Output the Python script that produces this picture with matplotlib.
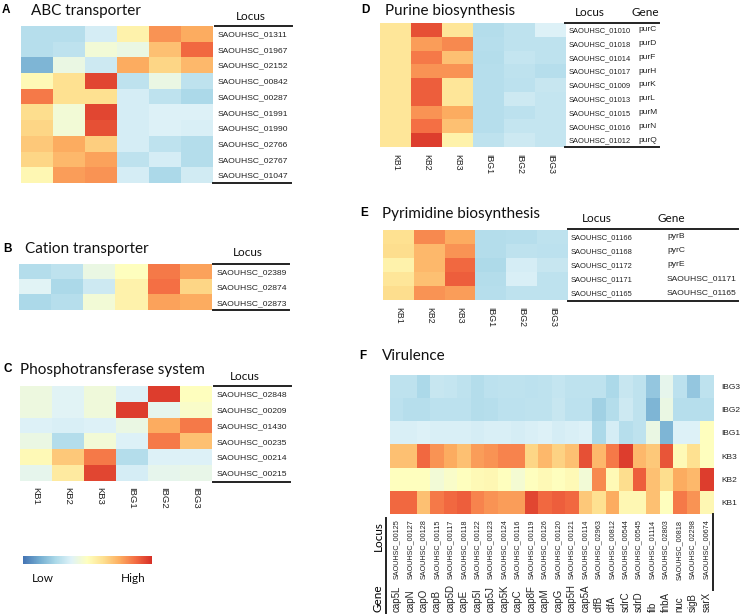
import numpy as np
import matplotlib
matplotlib.use("Agg")
import matplotlib.pyplot as plt
from matplotlib.colors import ListedColormap
from matplotlib.lines import Line2D
from matplotlib.transforms import blended_transform_factory

# ---------------- data ----------------
samples = ["KB1", "KB2", "KB3", "IBG1", "IBG2", "IBG3"]

A_loci = ["SAOUHSC_01311", "SAOUHSC_01967", "SAOUHSC_02152", "SAOUHSC_00842", "SAOUHSC_00287",
          "SAOUHSC_01991", "SAOUHSC_01990", "SAOUHSC_02766", "SAOUHSC_02767", "SAOUHSC_01047"]
A_vals = [[0.28, 0.28, 0.35, 0.55, 0.80, 0.75],
          [0.28, 0.30, 0.45, 0.42, 0.70, 0.88],
          [0.15, 0.42, 0.33, 0.75, 0.65, 0.72],
          [0.52, 0.62, 0.95, 0.30, 0.42, 0.30],
          [0.85, 0.62, 0.62, 0.35, 0.30, 0.25],
          [0.63, 0.45, 0.95, 0.35, 0.37, 0.37],
          [0.65, 0.45, 0.93, 0.35, 0.37, 0.36],
          [0.68, 0.75, 0.67, 0.35, 0.30, 0.27],
          [0.65, 0.72, 0.77, 0.30, 0.35, 0.27],
          [0.53, 0.78, 0.80, 0.35, 0.25, 0.34]]

B_loci = ["SAOUHSC_02389", "SAOUHSC_02874", "SAOUHSC_02873"]
B_vals = [[0.27, 0.30, 0.42, 0.50, 0.85, 0.77],
          [0.38, 0.25, 0.33, 0.55, 0.87, 0.65],
          [0.25, 0.28, 0.45, 0.55, 0.77, 0.75]]

C_loci = ["SAOUHSC_02848", "SAOUHSC_00209", "SAOUHSC_01430", "SAOUHSC_00235",
          "SAOUHSC_00214", "SAOUHSC_00215"]
C_vals = [[0.43, 0.38, 0.44, 0.37, 0.97, 0.50],
          [0.43, 0.38, 0.44, 0.97, 0.40, 0.48],
          [0.37, 0.36, 0.37, 0.42, 0.75, 0.85],
          [0.42, 0.27, 0.45, 0.37, 0.85, 0.70],
          [0.52, 0.68, 0.85, 0.27, 0.37, 0.37],
          [0.40, 0.58, 0.95, 0.35, 0.40, 0.41]]

D_loci = ["SAOUHSC_01010", "SAOUHSC_01018", "SAOUHSC_01014", "SAOUHSC_01017", "SAOUHSC_01009",
          "SAOUHSC_01013", "SAOUHSC_01015", "SAOUHSC_01016", "SAOUHSC_01012"]
D_genes = ["purC", "purD", "purF", "purH", "purK", "purL", "purM", "purN", "purQ"]
D_vals = [[0.60, 0.93, 0.60, 0.27, 0.30, 0.37],
          [0.60, 0.78, 0.82, 0.28, 0.30, 0.30],
          [0.60, 0.85, 0.70, 0.27, 0.31, 0.30],
          [0.60, 0.80, 0.80, 0.28, 0.30, 0.28],
          [0.60, 0.90, 0.60, 0.28, 0.29, 0.32],
          [0.60, 0.90, 0.60, 0.28, 0.33, 0.31],
          [0.60, 0.80, 0.75, 0.28, 0.29, 0.31],
          [0.60, 0.87, 0.70, 0.28, 0.31, 0.31],
          [0.60, 0.97, 0.55, 0.30, 0.33, 0.31]]

E_loci = ["SAOUHSC_01166", "SAOUHSC_01168", "SAOUHSC_01172", "SAOUHSC_01171", "SAOUHSC_01165"]
E_genes = ["pyrB", "pyrC", "pyrE", "SAOUHSC_01171", "SAOUHSC_01165"]
E_vals = [[0.62, 0.82, 0.75, 0.27, 0.28, 0.30],
          [0.63, 0.72, 0.80, 0.27, 0.30, 0.29],
          [0.55, 0.72, 0.88, 0.26, 0.35, 0.32],
          [0.60, 0.70, 0.90, 0.27, 0.36, 0.30],
          [0.63, 0.80, 0.78, 0.28, 0.30, 0.30]]

F_rows = ["IBG3", "IBG2", "IBG1", "KB3", "KB2", "KB1"]
F_loci = ["SAOUHSC_00125", "SAOUHSC_00127", "SAOUHSC_00128", "SAOUHSC_00115", "SAOUHSC_00117",
          "SAOUHSC_00118", "SAOUHSC_00122", "SAOUHSC_00123", "SAOUHSC_00124", "SAOUHSC_00116",
          "SAOUHSC_00119", "SAOUHSC_00126", "SAOUHSC_00120", "SAOUHSC_00121", "SAOUHSC_00114",
          "SAOUHSC_02963", "SAOUHSC_00812", "SAOUHSC_00544", "SAOUHSC_00545", "SAOUHSC_01114",
          "SAOUHSC_02803", "SAOUHSC_00818", "SAOUHSC_02298", "SAOUHSC_00674"]
F_genes = ["cap5L", "capN", "capO", "capB", "cap5D", "capE", "cap5I", "cap5J", "cap5K", "capC",
           "cap8F", "capM", "capG", "cap5H", "cap5A", "clfB", "clfA", "sdrC", "sdrD", "fib",
           "fnbA", "nuc", "sigB", "sarX"]
F_IBG3 = [0.30, 0.30, 0.25, 0.32, 0.31, 0.30, 0.27, 0.29, 0.30, 0.30, 0.29, 0.30, 0.31, 0.30, 0.30,
          0.30, 0.25, 0.32, 0.30, 0.20, 0.40, 0.29, 0.20, 0.30]
F_IBG2 = [0.29, 0.28, 0.28, 0.29, 0.29, 0.29, 0.27, 0.28, 0.29, 0.29, 0.30, 0.30, 0.32, 0.29, 0.29,
          0.23, 0.27, 0.33, 0.30, 0.15, 0.42, 0.28, 0.28, 0.28]
F_IBG1 = [0.36, 0.36, 0.37, 0.36, 0.36, 0.36, 0.35, 0.36, 0.36, 0.35, 0.36, 0.37, 0.35, 0.36, 0.37,
          0.25, 0.35, 0.28, 0.30, 0.42, 0.15, 0.37, 0.37, 0.50]
F_KB3 = [0.70, 0.70, 0.88, 0.80, 0.75, 0.70, 0.78, 0.80, 0.83, 0.83, 0.65, 0.72, 0.66, 0.70, 0.93,
         0.72, 0.85, 0.97, 0.72, 0.68, 0.92, 0.52, 0.62, 0.50]
F_KB2 = [0.50, 0.50, 0.50, 0.45, 0.48, 0.50, 0.52, 0.53, 0.50, 0.46, 0.50, 0.52, 0.50, 0.52, 0.45,
         0.82, 0.52, 0.63, 0.90, 0.70, 0.63, 0.75, 0.72, 0.97]
F_KB1 = [0.88, 0.88, 0.70, 0.85, 0.88, 0.90, 0.83, 0.80, 0.78, 0.78, 0.95, 0.88, 0.90, 0.88, 0.68,
         0.62, 0.75, 0.53, 0.53, 0.70, 0.50, 0.85, 0.80, 0.53]

# ---------------- style ----------------
W, H = 740, 615
cmap = ListedColormap(plt.cm.RdYlBu_r(np.linspace(0.1, 0.9, 256)))
TITLE_FONT = "Lato"
LABEL_FONT = "Liberation Sans"
LINE_COLOR = "#222222"

fig = plt.figure(figsize=(W / 100, H / 100), dpi=100)


def ax_px(x0, y0, x1, y1):
    return fig.add_axes([x0 / W, 1 - y1 / H, (x1 - x0) / W, (y1 - y0) / H])


def ftext(x, y, s, **kw):
    fig.text(x / W, 1 - y / H, s, **kw)


def hline(x0, x1, y):
    fig.add_artist(Line2D([x0 / W, x1 / W], [1 - y / H, 1 - y / H], color=LINE_COLOR,
                          lw=1.4, transform=fig.transFigure))


def vline(x, y0, y1):
    fig.add_artist(Line2D([x / W, x / W], [1 - y0 / H, 1 - y1 / H], color=LINE_COLOR,
                          lw=1.4, transform=fig.transFigure))


def heat(ax, vals):
    ax.imshow(np.array(vals), cmap=cmap, vmin=0, vmax=1, aspect="auto", interpolation="nearest")
    for s in ax.spines.values():
        s.set_visible(False)
    ax.set_xticks([])
    ax.set_yticks([])


def right_labels(ax, labels, fs=6.1, pad=3, family=LABEL_FONT):
    ax.yaxis.tick_right()
    ax.set_yticks(range(len(labels)))
    ax.set_yticklabels(labels, fontsize=fs, family=family, color="#222222")
    ax.tick_params(axis="y", length=0, pad=pad)


def bottom_samples(ax, fs=6.5, pad=4):
    ax.set_xticks(range(len(samples)))
    ax.set_xticklabels(samples, rotation=270, fontsize=fs, family=LABEL_FONT, color="#222222")
    ax.tick_params(axis="x", length=0, pad=pad)


def panel_letter(x, y, s):
    ftext(x, y, s, fontsize=8.5, fontweight="bold", family=LABEL_FONT, ha="left", va="center")


def title(x, y, s):
    ftext(x, y, s, fontsize=11, family=TITLE_FONT, ha="left", va="center", color="#111111")


def header(x, y, s, fs=8.5):
    ftext(x, y, s, fontsize=fs, family=TITLE_FONT, ha="left", va="center", color="#111111")


# ---------------- Panel A ----------------
panel_letter(2, 10, "A")
title(31, 11, "ABC transporter")
axA = ax_px(21, 26, 213, 183)
heat(axA, A_vals)
right_labels(axA, A_loci)
header(236, 16, "Locus")
hline(215, 292, 26)
hline(213, 291, 183)

# ---------------- Panel B ----------------
panel_letter(3, 249, "B")
title(25, 249, "Cation transporter")
axB = ax_px(19, 264, 212, 310)
heat(axB, B_vals)
right_labels(axB, B_loci)
header(233, 253, "Locus")
hline(213, 289, 264)
hline(213, 289, 310)

# ---------------- Panel C ----------------
panel_letter(3, 369, "C")
title(20, 370, "Phosphotransferase system")
axC = ax_px(20, 386, 212, 481)
heat(axC, C_vals)
right_labels(axC, C_loci)
bottom_samples(axC, fs=6.8, pad=4)
header(230, 376, "Locus")
hline(214, 291, 386)
hline(213, 290, 482)

# colour scale
axCB = ax_px(23, 556, 152, 564)
axCB.imshow(np.linspace(0, 1, 256)[None, :], cmap=cmap, aspect="auto")
axCB.set_axis_off()
header(32, 578, "Low", fs=8.5)
header(121, 578, "High", fs=8.5)

# ---------------- Panel D ----------------
panel_letter(361, 10, "D")
title(385, 11, "Purine biosynthesis")
axD = ax_px(380, 23, 566, 147)
heat(axD, D_vals)
right_labels(axD, D_loci, fs=5.4, pad=2)
bottom_samples(axD, fs=6.3, pad=5)
trD = blended_transform_factory(fig.transFigure, axD.transData)
for i, g in enumerate(D_genes):
    axD.text(638 / W, i, g, transform=trD, fontsize=6, family=LABEL_FONT, va="center",
             ha="left", color="#222222")
header(575, 12, "Locus")
header(631, 12, "Gene")
hline(565, 659, 23)
hline(565, 659, 147)

# ---------------- Panel E ----------------
panel_letter(360, 213, "E")
title(382, 214, "Pyrimidine biosynthesis")
axE = ax_px(383, 230, 568, 300)
heat(axE, E_vals)
right_labels(axE, E_loci, fs=5.4, pad=2)
bottom_samples(axE, fs=6.3, pad=5)
trE = blended_transform_factory(fig.transFigure, axE.transData)
for i, g in enumerate(E_genes):
    axE.text(667 / W, i, g, transform=trE, fontsize=6.1, family=LABEL_FONT, va="center",
             ha="left", color="#222222")
header(582, 219, "Locus")
header(658, 219, "Gene")
hline(568, 738, 229)
hline(568, 738, 301)

# ---------------- Panel F ----------------
panel_letter(359, 356, "F")
title(382, 356, "Virulence")
axF = ax_px(390, 375, 713, 514)
heat(axF, [F_IBG3, F_IBG2, F_IBG1, F_KB3, F_KB2, F_KB1])
right_labels(axF, F_rows, fs=6, pad=6)
axF.set_xticks(range(len(F_loci)))
axF.set_xticklabels(F_loci, rotation=90, fontsize=5.2, family=LABEL_FONT, color="#222222")
axF.tick_params(axis="x", length=0, pad=4)
trF = blended_transform_factory(axF.transData, fig.transFigure)
for j, g in enumerate(F_genes):
    axF.text(j, 1 - 612 / H, g, transform=trF, rotation=90, fontsize=7, family=LABEL_FONT,
             ha="center", va="bottom", color="#222222")
ftext(378, 536, "Locus", fontsize=8.5, family=TITLE_FONT, rotation=90, ha="center", va="center")
ftext(378, 598, "Gene", fontsize=8.5, family=TITLE_FONT, rotation=90, ha="center", va="center")
vline(386, 518, 613)
vline(713, 514, 590)

fig.savefig("out.png", dpi=100, facecolor="white")
